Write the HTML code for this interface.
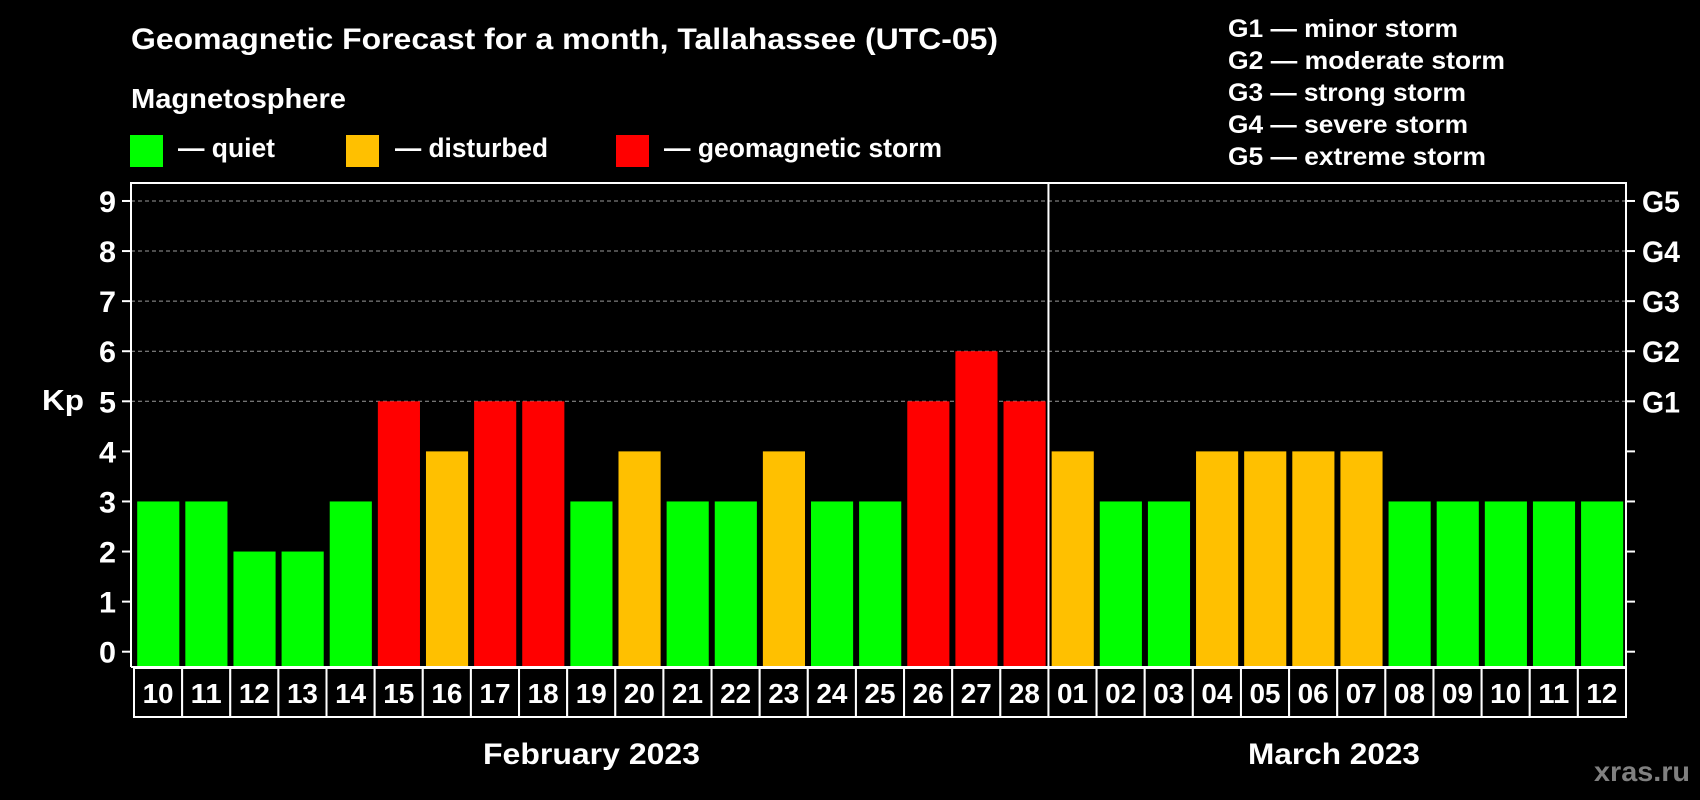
<!DOCTYPE html>
<html><head><meta charset="utf-8"><style>
html,body{margin:0;padding:0;background:#000;}
svg{display:block;font-family:"Liberation Sans",Arial,sans-serif;font-weight:bold;}
</style></head><body>
<svg id="chart" width="1700" height="800" viewBox="0 0 1700 800" xmlns="http://www.w3.org/2000/svg">
<rect x="0" y="0" width="1700" height="800" fill="#000"/>
<text x="131" y="49" font-size="30" fill="#fff" textLength="867" lengthAdjust="spacingAndGlyphs">Geomagnetic Forecast for a month, Tallahassee (UTC-05)</text>
<text x="131" y="108" font-size="28" fill="#fff" textLength="215" lengthAdjust="spacingAndGlyphs">Magnetosphere</text>
<g>
<rect x="130" y="135" width="33" height="32" fill="#00ff00"/>
<text x="178" y="157" font-size="27" fill="#fff" textLength="97" lengthAdjust="spacingAndGlyphs">— quiet</text>
</g>
<g>
<rect x="346" y="135" width="33" height="32" fill="#ffc000"/>
<text x="395" y="157" font-size="27" fill="#fff" textLength="153" lengthAdjust="spacingAndGlyphs">— disturbed</text>
</g>
<g>
<rect x="616" y="135" width="33" height="32" fill="#ff0000"/>
<text x="664" y="157" font-size="27" fill="#fff" textLength="278" lengthAdjust="spacingAndGlyphs">— geomagnetic storm</text>
</g>
<g>
<text x="1228" y="37" font-size="25" fill="#fff" textLength="230" lengthAdjust="spacingAndGlyphs">G1 — minor storm</text>
<text x="1228" y="69" font-size="25" fill="#fff" textLength="277" lengthAdjust="spacingAndGlyphs">G2 — moderate storm</text>
<text x="1228" y="101" font-size="25" fill="#fff" textLength="238" lengthAdjust="spacingAndGlyphs">G3 — strong storm</text>
<text x="1228" y="133" font-size="25" fill="#fff" textLength="240" lengthAdjust="spacingAndGlyphs">G4 — severe storm</text>
<text x="1228" y="165" font-size="25" fill="#fff" textLength="258" lengthAdjust="spacingAndGlyphs">G5 — extreme storm</text>
</g>
<text x="42" y="410" font-size="29" fill="#fff" textLength="42" lengthAdjust="spacingAndGlyphs">Kp</text>
<text x="483" y="764" font-size="30" fill="#fff" textLength="217" lengthAdjust="spacingAndGlyphs">February 2023</text>
<text x="1248" y="764" font-size="30" fill="#fff" textLength="172" lengthAdjust="spacingAndGlyphs">March 2023</text>
<text x="1594" y="781" font-size="28" fill="#808080" textLength="96" lengthAdjust="spacingAndGlyphs">xras.ru</text>
<g id="grid"></g><g id="bars"></g><g id="axes"></g><g id="labels"></g>
</svg>
<script>
const days = ["10","11","12","13","14","15","16","17","18","19","20","21","22","23","24","25","26","27","28","01","02","03","04","05","06","07","08","09","10","11","12"];
const kpValues = [3,3,2,2,3,5,4,5,5,3,4,3,3,4,3,3,5,6,5,4,3,3,4,4,4,4,3,3,3,3,3];
const yTicks = [0,1,2,3,4,5,6,7,8,9];
const gLabels = ["G1","G2","G3","G4","G5"];
const gLevels = [5,6,7,8,9];
const monthSplitIndex = 19;

const NS = "http://www.w3.org/2000/svg";
const L = 131, R = 1626, T = 183, B = 667, SL = 134;
const slotW = (R - SL) / days.length;
function y(v){ return 651.7 - v * 50.08; }
function xs(i){ return SL + i * slotW; }
function mk(tag, attrs, parent){
  const e = document.createElementNS(NS, tag);
  for (const k in attrs) e.setAttribute(k, attrs[k]);
  parent.appendChild(e); return e;
}
function color(v){ return v >= 5 ? "#ff0000" : (v >= 4 ? "#ffc000" : "#00ff00"); }
const grid = document.getElementById("grid"), bars = document.getElementById("bars"),
      axes = document.getElementById("axes"), labels = document.getElementById("labels");

gLevels.forEach(function(v){
  const l = mk("line", {x1:L, x2:R, y1:y(v), y2:y(v), stroke:"#9a9a9a", "stroke-width":1, "stroke-dasharray":"4,3"}, grid);
  
  
});

kpValues.forEach(function(v, i){
  const r = mk("rect", {x:xs(i)+3.2, y:y(v), width:slotW-6, height:B - y(v), fill:color(v)}, bars);
  
  
});

yTicks.forEach(function(v){
  const t = mk("text", {x:99, y:y(v)+11, "font-size":30, fill:"#fff", textLength:17, lengthAdjust:"spacingAndGlyphs"}, axes);
  t.textContent = v;
  
  
  const a = mk("line", {x1:122, x2:L, y1:y(v), y2:y(v), stroke:"#fff", "stroke-width":2}, axes);
  
  
  const b = mk("line", {x1:R, x2:R+9, y1:y(v), y2:y(v), stroke:"#fff", "stroke-width":2}, axes);
  
  
});
gLabels.forEach(function(g, i){
  const t = mk("text", {x:1642, y:y(gLevels[i])+11, "font-size":30, fill:"#fff", textLength:38, lengthAdjust:"spacingAndGlyphs"}, axes);
  t.textContent = g;
  
  
});

const frame = mk("path", {d:"M"+L+","+B+" V"+T+" H"+R+" V"+B+" H"+L, fill:"none", stroke:"#fff", "stroke-width":2}, axes);


const div = mk("line", {x1:xs(monthSplitIndex), x2:xs(monthSplitIndex), y1:T, y2:B, stroke:"#fff", "stroke-width":2}, axes);



days.forEach(function(d, i){
  const box = mk("rect", {x:xs(i), y:668, width:slotW, height:49, fill:"#000", stroke:"#fff", "stroke-width":2}, labels);
  
  
  const t = mk("text", {x:xs(i)+slotW/2 - 15.5, y:703, "font-size":28, fill:"#fff", textLength:31, lengthAdjust:"spacingAndGlyphs"}, labels);
  t.textContent = d;
  
  
});
</script>
</body></html>
